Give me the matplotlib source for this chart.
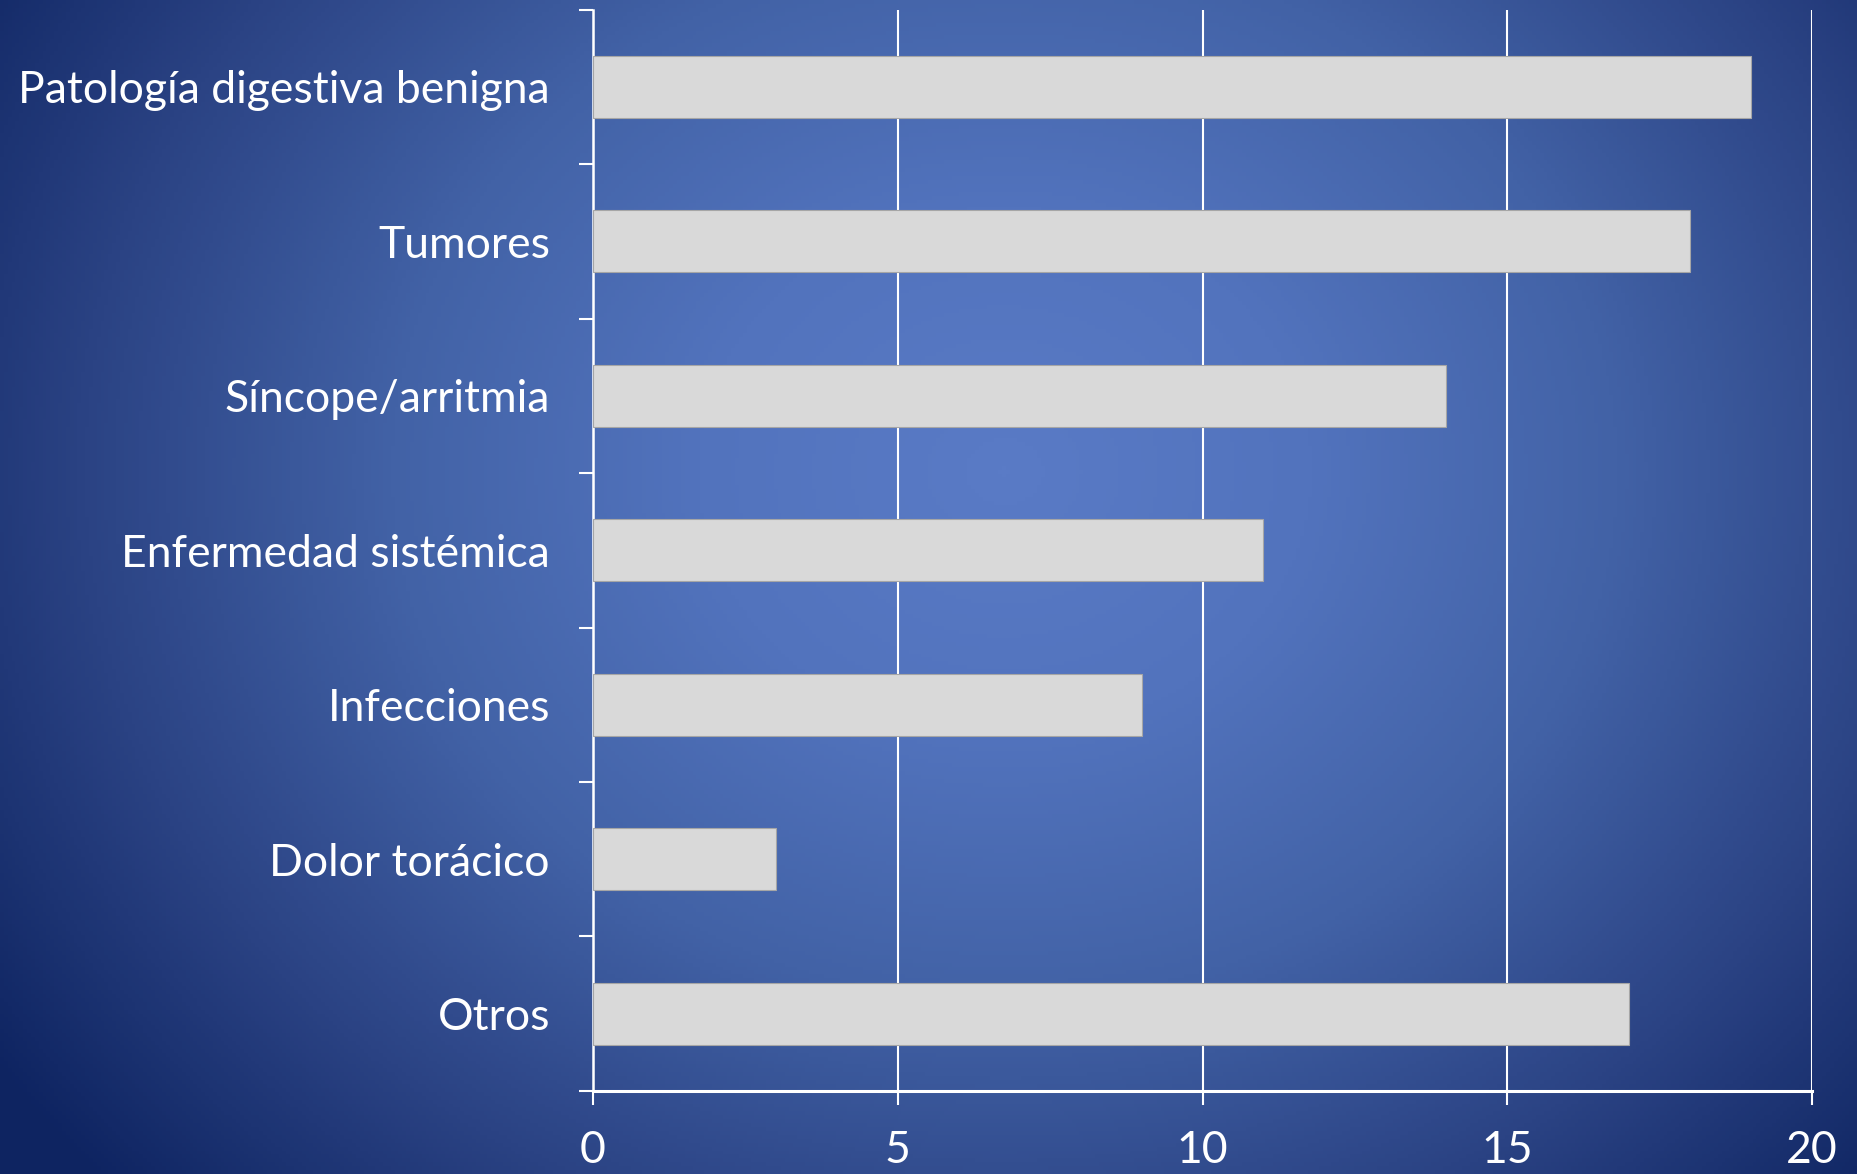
import numpy as np
import matplotlib
matplotlib.use("Agg")
import matplotlib.pyplot as plt
from matplotlib.colors import LinearSegmentedColormap

categories = [
    "Patología digestiva benigna",
    "Tumores",
    "Síncope/arritmia",
    "Enfermedad sistémica",
    "Infecciones",
    "Dolor torácico",
    "Otros",
]
values = [19, 18, 14, 11, 9, 3, 17]
xticks = [0, 5, 10, 15, 20]

plt.rcParams["font.family"] = ["Lato", "DejaVu Sans"]

fig = plt.figure(figsize=(18.57, 11.74), dpi=100)

# radial background
bg = fig.add_axes([0, 0, 1, 1], zorder=-10)
bg.set_axis_off()
h, w = 300, 480
yy, xx = np.mgrid[0:h, 0:w]
cx, cy = 0.54 * w, 0.40 * h
d = np.sqrt(((xx - cx) / (0.66 * w)) ** 2 + ((yy - cy) / (0.9 * h)) ** 2)
d = np.clip(d, 0, 1)
cmap = LinearSegmentedColormap.from_list(
    "bgc", ["#5a7bc6", "#5273bd", "#4262a6", "#2b4384", "#0e2461"]
)
bg.imshow(d, cmap=cmap, aspect="auto", extent=[0, 1, 0, 1], vmin=0, vmax=1)
bg.set_xlim(0, 1)
bg.set_ylim(0, 1)

ax = fig.add_axes([0.3193, 0.0707, 0.6565, 0.9212])
ax.patch.set_alpha(0)

y = np.arange(len(categories))
ax.barh(y, values, height=0.4, color="#d9d9d9", edgecolor="#a6a6a6",
        linewidth=0.8, zorder=3)

ax.set_xlim(0, 20)
ax.set_ylim(len(categories) - 0.5, -0.5)
ax.set_xticks(xticks)
ax.set_xticklabels([str(t) for t in xticks])
ax.set_yticks(y)
ax.set_yticklabels(categories)
ax.set_yticks(np.arange(len(categories) + 1) - 0.5, minor=True)

ax.grid(axis="x", color="white", linewidth=1.5, zorder=1)
ax.set_axisbelow(True)

for side in ["top", "right"]:
    ax.spines[side].set_visible(False)
ax.spines["left"].set_color("white")
ax.spines["left"].set_linewidth(1.8)
ax.spines["bottom"].set_color("white")
ax.spines["bottom"].set_linewidth(2.2)

ax.tick_params(axis="y", which="major", length=0, pad=31,
               labelsize=32, labelcolor="white")
ax.tick_params(axis="y", which="minor", length=10, width=1.5,
               color="white", direction="out")
ax.tick_params(axis="x", which="major", length=10, width=1.5,
               color="white", direction="out", pad=18,
               labelsize=32, labelcolor="white")

fig.savefig("out.png", dpi=100)
